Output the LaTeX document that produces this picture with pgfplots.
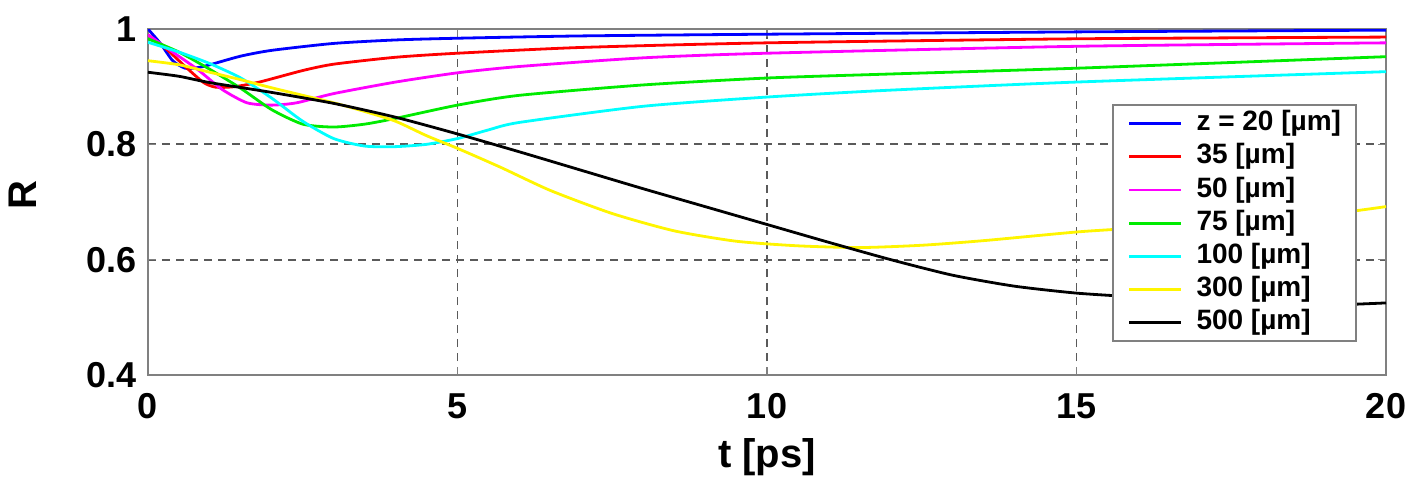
\documentclass[border=0pt]{standalone}
\usepackage{pgfplots}
\pgfplotsset{compat=1.18}
\usepackage{fontspec}
\setmainfont{Liberation Sans}
\definecolor{mblue}{RGB}{0,0,255}
\definecolor{mred}{RGB}{255,0,0}
\definecolor{mmag}{RGB}{255,0,255}
\definecolor{mgreen}{RGB}{0,235,0}
\definecolor{mcyan}{RGB}{0,255,255}
\definecolor{myellow}{RGB}{255,245,0}
\definecolor{gridgray}{RGB}{90,90,90}
\begin{document}
\begin{tikzpicture}
\begin{axis}[
  scale only axis,
  width=619pt, height=173pt,
  xmin=0, xmax=20, ymin=0.4, ymax=1,
  xtick={0,5,10,15,20},
  ytick={0.4,0.6,0.8,1},
  yticklabels={0.4,0.6,0.8,1},
  /pgf/number format/assume math mode=true,
  ticklabel style={font=\fontsize{18}{18}\selectfont\bfseries, inner sep=0pt},
  xticklabel style={anchor=base, yshift=-21.5pt},
  yticklabel style={anchor=east, xshift=-5.5pt},
  label style={font=\fontsize{20}{20}\selectfont\bfseries},
  xlabel={t [ps]},
  xlabel style={at={(axis description cs:0.5,0)}, anchor=base, yshift=-46pt, inner sep=0pt},
  ylabel={R},
  ylabel style={at={(axis description cs:-0.101,0.52)}, anchor=center, inner sep=0pt},
  axis line style={gray, line width=1pt},
  tick style={gray, line width=0.8pt},
  tick align=inside,
  major tick length=4pt,
  grid=major,
  major grid style={gridgray, dash pattern=on 4pt off 3pt, line width=0.9pt},
  every axis plot/.append style={line width=1.4pt, smooth, tension=0.4},
  legend style={at={(rel axis cs:0.9766,0.783)}, anchor=north east,
    draw=gray, line width=1pt, font=\fontsize{14}{14}\selectfont\bfseries,
    row sep=0pt, inner xsep=7.5pt, inner ysep=1pt,
    nodes={text height=10.5pt, text depth=3.5pt, inner ysep=1.3pt, inner xsep=0pt}},
  legend cell align=left,
  legend image code/.code={\draw[#1] (0pt,0pt) -- (26pt,0pt);},
  legend style={/tikz/every odd column/.style={column sep=7pt}},
]
\addplot[mblue] coordinates {(0,1.0) (0.2,0.975) (0.4,0.945) (0.6,0.932) (0.8,0.933) (1.0,0.938) (1.5,0.953) (2,0.963) (3,0.975) (4,0.981) (5,0.984) (7,0.988) (10,0.991) (15,0.995) (20,0.998)};
\addlegendentry{z = 20 [µm]}
\addplot[mred] coordinates {(0,0.99) (0.3,0.965) (0.6,0.935) (0.9,0.907) (1.1,0.899) (1.4,0.9) (1.8,0.908) (2.5,0.928) (3,0.939) (4,0.951) (5,0.958) (7,0.968) (10,0.976) (15,0.983) (20,0.986)};
\addlegendentry{35 [µm]}
\addplot[mmag] coordinates {(0,0.99) (0.4,0.96) (0.8,0.93) (1.2,0.895) (1.6,0.872) (2.0,0.868) (2.4,0.872) (3,0.888) (4,0.908) (5,0.924) (6,0.935) (8,0.95) (10,0.958) (15,0.97) (20,0.976)};
\addlegendentry{50 [µm]}
\addplot[mgreen] coordinates {(0,0.983) (0.5,0.96) (1,0.93) (1.5,0.897) (2,0.86) (2.5,0.835) (3,0.83) (3.5,0.835) (4,0.845) (5,0.868) (6,0.885) (8,0.903) (10,0.915) (12,0.922) (15,0.932) (20,0.952)};
\addlegendentry{75 [µm]}
\addplot[mcyan] coordinates {(0,0.977) (0.5,0.96) (1,0.94) (1.5,0.915) (2,0.88) (2.5,0.84) (3,0.81) (3.5,0.797) (4,0.796) (4.5,0.8) (5,0.81) (5.5,0.825) (6,0.838) (8,0.866) (10,0.882) (12,0.894) (15,0.908) (20,0.926)};
\addlegendentry{100 [µm]}
\addplot[myellow] coordinates {(0,0.945) (0.5,0.938) (1,0.925) (1.5,0.912) (2,0.898) (2.5,0.885) (3,0.872) (3.5,0.857) (4,0.84) (4.5,0.815) (5,0.793) (5.7,0.76) (6.5,0.72) (7.5,0.68) (8.5,0.65) (9.5,0.632) (10.5,0.624) (11.5,0.621) (12.5,0.625) (13.5,0.633) (15,0.648) (16,0.655) (17.5,0.665) (19,0.678) (20,0.692)};
\addlegendentry{300 [µm]}
\addplot[black] coordinates {(0,0.925) (0.5,0.918) (1,0.907) (2,0.89) (3,0.871) (4,0.847) (5,0.818) (6,0.787) (7,0.755) (8,0.723) (9,0.692) (10,0.661) (11,0.63) (12,0.6) (13,0.573) (14,0.554) (15,0.542) (16,0.535) (17,0.528) (18,0.523) (19,0.521) (20,0.525)};
\addlegendentry{500 [µm]}
\end{axis}
\path (current axis.south west) ++(-74pt,-50.5pt);
\path (current axis.north east) ++(18pt,14.5pt);
\end{tikzpicture}
\end{document}
